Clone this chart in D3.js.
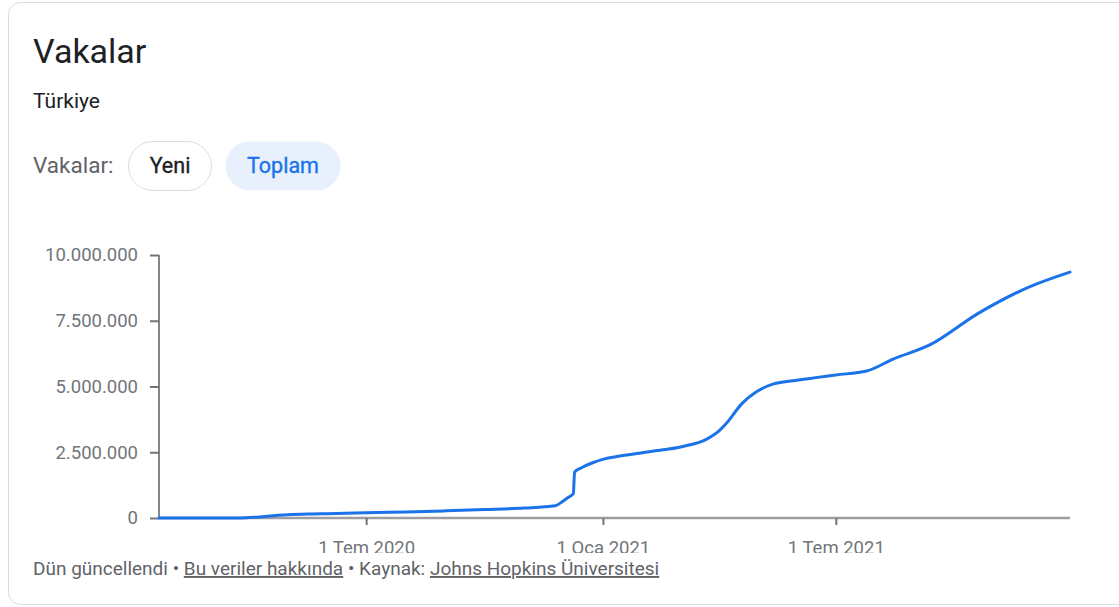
<!DOCTYPE html>
<html>
<head>
<meta charset="utf-8">
<script src="https://cdn.jsdelivr.net/npm/d3@7"></script>
<style>
  html, body { margin: 0; padding: 0; background: #fff; }
  svg { display: block; font-family: Roboto, "Noto Sans", Arial, sans-serif; }
</style>
</head>
<body>
<svg id="chart" width="1119" height="607"></svg>
<script>
// ---- data ----
const dates = [
  "2020-01-22","2020-03-10","2020-03-25","2020-04-05","2020-04-15","2020-05-01","2020-05-20",
  "2020-06-01","2020-07-01","2020-08-01","2020-09-01","2020-10-01","2020-11-01","2020-11-25",
  "2020-12-01","2020-12-05","2020-12-09","2020-12-10","2020-12-15","2020-12-25","2021-01-01",
  "2021-01-11","2021-02-06","2021-03-04","2021-03-22","2021-04-01","2021-04-07","2021-04-19",
  "2021-04-30","2021-05-13","2021-06-02","2021-07-01","2021-07-25","2021-08-15","2021-09-12",
  "2021-10-20","2021-11-28","2021-12-30"
];
const cases = [
  0, 0, 2400, 27000, 69000, 122000, 152000,
  165000, 201000, 231000, 273000, 319000, 377000, 467000,
  640000, 780000, 925000, 1750000, 1900000, 2120000, 2230000,
  2330000, 2520000, 2720000, 2980000, 3300000, 3600000, 4350000,
  4790000, 5090000, 5250000, 5440000, 5590000, 6050000, 6580000,
  7790000, 8780000, 9350000
];
const yTicks = [0, 2500000, 5000000, 7500000, 10000000];
const xTicks = ["2020-07-01", "2021-01-01", "2021-07-01"];
const monthNames = ["Oca","Şub","Mar","Nis","May","Haz","Tem","Ağu","Eyl","Eki","Kas","Ara"];
const xDomain = ["2020-01-22", "2021-12-30"];
const title = "Vakalar";
const subtitle = "Türkiye";
const toggleLabel = "Vakalar:";
const toggleOptions = ["Yeni", "Toplam"];

// ---- setup ----
const parse = d3.utcParse("%Y-%m-%d");
const trLocale = d3.formatLocale({ decimal: ",", thousands: ".", grouping: [3], currency: ["", "₺"] });
const fmt = trLocale.format(",d");

const svg = d3.select("#chart");
const W = 1119, H = 607;

// card
svg.append("rect")
  .attr("x", 8.5).attr("y", 2.5).attr("width", W + 20).attr("height", 602)
  .attr("rx", 12).attr("fill", "#fff").attr("stroke", "#dadce0").attr("stroke-width", 1);

// title & subtitle
svg.append("text").attr("x", 33).attr("y", 63).text(title)
  .attr("font-size", 34).attr("fill", "#202124");
svg.append("text").attr("x", 33).attr("y", 108).text(subtitle)
  .attr("font-size", 21).attr("fill", "#202124");

// toggle
svg.append("text").attr("x", 33).attr("y", 173).text(toggleLabel)
  .attr("font-size", 22.5).attr("fill", "#5f6368");
const pills = [
  { x: 128, w: 84, fill: "#fff", stroke: "#dadce0", color: "#202124" },
  { x: 225, w: 116, fill: "#e8f0fe", stroke: "none", color: "#1a73e8" }
];
pills.forEach((p, i) => {
  svg.append("rect").attr("x", p.x + 0.5).attr("y", 141.5).attr("width", p.w - 1).attr("height", 49)
    .attr("rx", 24.5).attr("fill", p.fill).attr("stroke", p.stroke);
  svg.append("text").attr("x", p.x + p.w / 2).attr("y", 173).attr("text-anchor", "middle")
    .text(toggleOptions[i]).attr("font-size", 21.5).attr("fill", p.color)
    .attr("stroke", p.color).attr("stroke-width", 0.35);
});

// ---- chart ----
const m = { left: 159, right: 1070, top: 255, bottom: 518 };
const x = d3.scaleUtc().domain(xDomain.map(parse)).range([m.left, m.right]);
const y = d3.scaleLinear().domain([0, 10000000]).range([m.bottom, m.top]);

svg.append("clipPath").attr("id", "clipAll")
  .append("rect").attr("x", 0).attr("y", 0).attr("width", W).attr("height", 553);
const g = svg.append("g").attr("clip-path", "url(#clipAll)");

// y axis
const yAxis = g.append("g").attr("transform", `translate(${m.left},0)`)
  .call(d3.axisLeft(y).tickValues(yTicks).tickFormat(fmt).tickSize(9).tickPadding(12));
yAxis.select(".domain").attr("stroke", "#80868b").attr("stroke-width", 2).attr("d", `M0,${m.top}V${m.bottom}`);
yAxis.selectAll(".tick line").attr("stroke", "#70757a").attr("stroke-width", 2);
yAxis.selectAll(".tick text").attr("fill", "#70757a").attr("font-size", 18.5)
  .attr("font-family", "Roboto, sans-serif");

// x axis
const xAxis = g.append("g").attr("transform", `translate(0,${m.bottom})`)
  .call(d3.axisBottom(x).tickValues(xTicks.map(parse))
    .tickFormat(d => `${d.getUTCDate()} ${monthNames[d.getUTCMonth()]} ${d.getUTCFullYear()}`)
    .tickSize(7).tickPadding(16));
xAxis.select(".domain").attr("stroke", "#9e9e9e").attr("stroke-width", 2.5).attr("d", `M${m.left},0H${m.right}`);
xAxis.selectAll(".tick line").attr("stroke", "#70757a").attr("stroke-width", 2);
xAxis.selectAll(".tick text").attr("fill", "#70757a").attr("font-size", 18.5)
  .attr("font-family", "Roboto, sans-serif");

// line
const data = dates.map((d, i) => ({ date: parse(d), value: cases[i] }));
g.append("path").datum(data)
  .attr("fill", "none").attr("stroke", "#1a73e8").attr("stroke-width", 3)
  .attr("stroke-linejoin", "round").attr("stroke-linecap", "round")
  .attr("d", d3.line().x(d => x(d.date)).y(d => y(d.value)).curve(d3.curveMonotoneX));

// footer
const footer = svg.append("text").attr("x", 33).attr("y", 575).attr("font-size", 19).attr("fill", "#5f6368");
footer.append("tspan").text("Dün güncellendi • ");
footer.append("tspan").text("Bu veriler hakkında").attr("text-decoration", "underline");
footer.append("tspan").text(" • Kaynak: ");
footer.append("tspan").text("Johns Hopkins Üniversitesi").attr("text-decoration", "underline");
</script>
</body>
</html>
